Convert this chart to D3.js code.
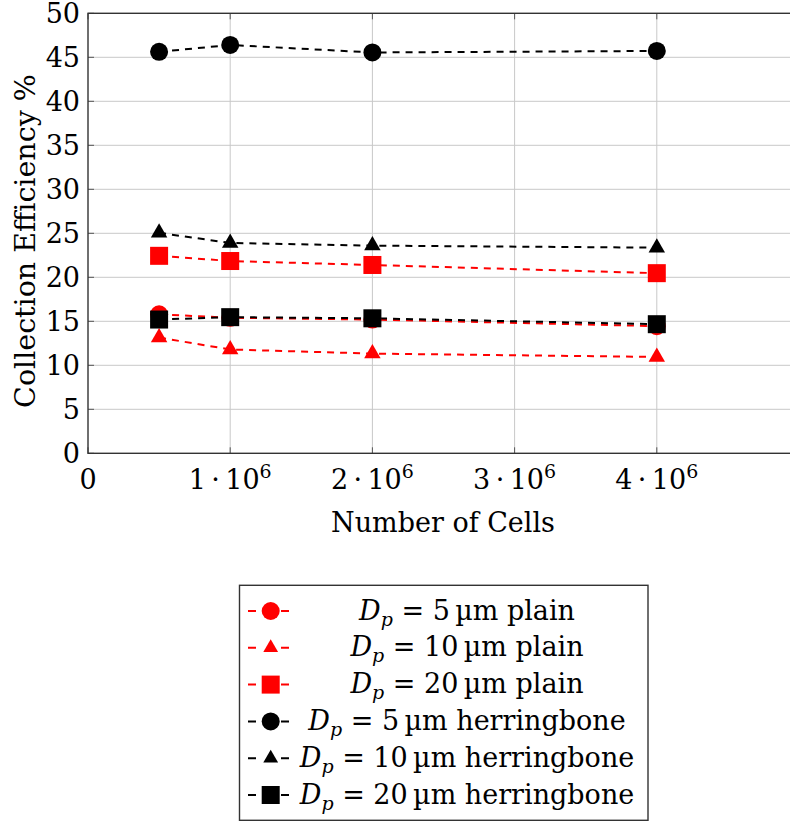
<!DOCTYPE html>
<html>
<head>
<meta charset="utf-8">
<script src="https://cdn.jsdelivr.net/npm/d3@7"></script>
<style>
  html, body { margin: 0; padding: 0; background: #fff; }
  svg { display: block; }
</style>
</head>
<body>
<svg id="chart" width="790" height="824" font-family="'DejaVu Serif', 'Liberation Serif', serif"></svg>
<script>
// Number of mesh cells for each simulation
const cells = [0.5e6, 1e6, 2e6, 4e6];

// Collection efficiency (%) per particle diameter and channel type
const plain5 = [15.8, 15.4, 15.2, 14.45];
const plain10 = [13.15, 11.8, 11.33, 10.95];
const plain20 = [22.44, 21.85, 21.4, 20.47];
const herring5 = [45.62, 46.4, 45.55, 45.72];
const herring10 = [25.05, 23.9, 23.6, 23.37];
const herring20 = [15.2, 15.47, 15.34, 14.67];

// Axis ticks
const yTicks = [0, 5, 10, 15, 20, 25, 30, 35, 40, 45, 50];
const xTicks = [0, 1e6, 2e6, 3e6, 4e6, 5e6];

// Legend entries
const seriesNames = ["5", "10", "20", "5", "10", "20"];
const seriesKinds = ["plain", "plain", "plain", "herringbone", "herringbone", "herringbone"];

const series = [
  { values: plain5, color: "#ff0000", marker: "circle" },
  { values: plain10, color: "#ff0000", marker: "triangle" },
  { values: plain20, color: "#ff0000", marker: "square" },
  { values: herring5, color: "#000000", marker: "circle" },
  { values: herring10, color: "#000000", marker: "triangle" },
  { values: herring20, color: "#000000", marker: "square" }
].map((s, i) => ({ ...s, size: seriesNames[i], kind: seriesKinds[i] }));

const svg = d3.select("#chart");

const plotLeft = 88, plotTop = 13.3, plotBottom = 453.3, plotRight = 799;
const x = d3.scaleLinear().domain([0, 5e6]).range([plotLeft, plotRight]);
const y = d3.scaleLinear().domain([0, 50]).range([plotBottom, plotTop]);

// Grid
const grid = svg.append("g");
grid.selectAll("line.gy").data(yTicks.slice(1, -1)).join("line")
  .attr("x1", plotLeft).attr("x2", plotRight)
  .attr("y1", d => y(d)).attr("y2", d => y(d))
  .attr("stroke", "#c8c8c8").attr("stroke-width", 1);
grid.selectAll("line.gx").data(xTicks.slice(1, -1)).join("line")
  .attr("x1", d => x(d)).attr("x2", d => x(d))
  .attr("y1", plotTop).attr("y2", plotBottom)
  .attr("stroke", "#c8c8c8").attr("stroke-width", 1);

// Inward tick marks on all sides
const tickLen = 6;
const ticks = svg.append("g").attr("stroke", "#555").attr("stroke-width", 1);
yTicks.forEach(t => {
  ticks.append("line").attr("x1", plotLeft).attr("x2", plotLeft + tickLen).attr("y1", y(t)).attr("y2", y(t));
  ticks.append("line").attr("x1", plotRight).attr("x2", plotRight - tickLen).attr("y1", y(t)).attr("y2", y(t));
});
xTicks.forEach(t => {
  ticks.append("line").attr("x1", x(t)).attr("x2", x(t)).attr("y1", plotBottom).attr("y2", plotBottom - tickLen);
  ticks.append("line").attr("x1", x(t)).attr("x2", x(t)).attr("y1", plotTop).attr("y2", plotTop + tickLen);
});

// Axis frame
svg.append("rect")
  .attr("x", plotLeft).attr("y", plotTop)
  .attr("width", plotRight - plotLeft).attr("height", plotBottom - plotTop)
  .attr("fill", "none").attr("stroke", "#333").attr("stroke-width", 1.4);

// Y tick labels
svg.append("g").selectAll("text").data(yTicks).join("text")
  .attr("x", plotLeft - 8).attr("y", d => y(d))
  .attr("dy", "0.36em")
  .attr("text-anchor", "end")
  .attr("font-size", 27)
  .text(d => d);

// X tick labels (scientific notation)
const xl = svg.append("g").selectAll("text").data(xTicks.slice(0, -1)).join("text")
  .attr("x", d => x(d)).attr("y", 489)
  .attr("text-anchor", "middle")
  .attr("font-size", 27);
xl.each(function (d) {
  const t = d3.select(this);
  if (d === 0) { t.text("0"); return; }
  t.append("tspan").text(`${d / 1e6}\u2009\u00b7\u200910`);
  t.append("tspan").attr("font-size", 19).attr("dy", -11).text("6");
});

// Axis titles
svg.append("text")
  .attr("x", 443).attr("y", 532)
  .attr("text-anchor", "middle").attr("font-size", 27)
  .text("Number of Cells");
svg.append("text")
  .attr("transform", "translate(35,241) rotate(-90)")
  .attr("text-anchor", "middle").attr("font-size", 28.5)
  .text("Collection Efficiency %");

// Marker drawing
function drawMarker(g, type, cx, cy, color, scale = 1) {
  if (type === "circle") {
    g.append("circle").attr("cx", cx).attr("cy", cy).attr("r", 9 * scale).attr("fill", color);
  } else if (type === "square") {
    const s = 18 * scale;
    g.append("rect").attr("x", cx - s / 2).attr("y", cy - s / 2).attr("width", s).attr("height", s).attr("fill", color);
  } else {
    const r = 9.5 * scale;
    const pts = [[cx, cy - r], [cx + r * 0.866, cy + r * 0.5], [cx - r * 0.866, cy + r * 0.5]];
    g.append("path").attr("d", "M" + pts.map(p => p.join(",")).join("L") + "Z").attr("fill", color);
  }
}

// Series lines and markers
const line = d3.line().x((d, i) => x(cells[i])).y(d => y(d));
const plotG = svg.append("g");
series.forEach(s => {
  plotG.append("path")
    .attr("d", line(s.values))
    .attr("fill", "none")
    .attr("stroke", s.color)
    .attr("stroke-width", 2)
    .attr("stroke-dasharray", "7,6");
});
series.forEach(s => {
  const g = plotG.append("g");
  s.values.forEach((v, i) => drawMarker(g, s.marker, x(cells[i]), y(v), s.color));
});

// Legend
const legX = 239.5, legY = 585.3, legW = 408.5, legH = 235;
const leg = svg.append("g");
leg.append("rect")
  .attr("x", legX).attr("y", legY).attr("width", legW).attr("height", legH)
  .attr("fill", "#fff").attr("stroke", "#333").attr("stroke-width", 1.4);

series.forEach((s, i) => {
  const base = 619.5 + i * 36.8;
  const cy = base - 8.5;
  leg.append("line")
    .attr("x1", 248).attr("x2", 289).attr("y1", cy).attr("y2", cy)
    .attr("stroke", s.color).attr("stroke-width", 2)
    .attr("stroke-dasharray", "8,25");
  drawMarker(leg, s.marker, 270.7, cy, s.color, s.marker === "triangle" ? 0.9 : 1);

  const t = leg.append("text")
    .attr("x", 467).attr("y", base)
    .attr("text-anchor", "middle").attr("font-size", 27);
  t.append("tspan").attr("font-style", "italic").text("D");
  t.append("tspan").attr("font-style", "italic").attr("font-size", 19).attr("dy", 6).text("p");
  t.append("tspan").attr("dy", -6).text(` = ${s.size}\u2009\u00b5m ${s.kind}`);
});
</script>
</body>
</html>
